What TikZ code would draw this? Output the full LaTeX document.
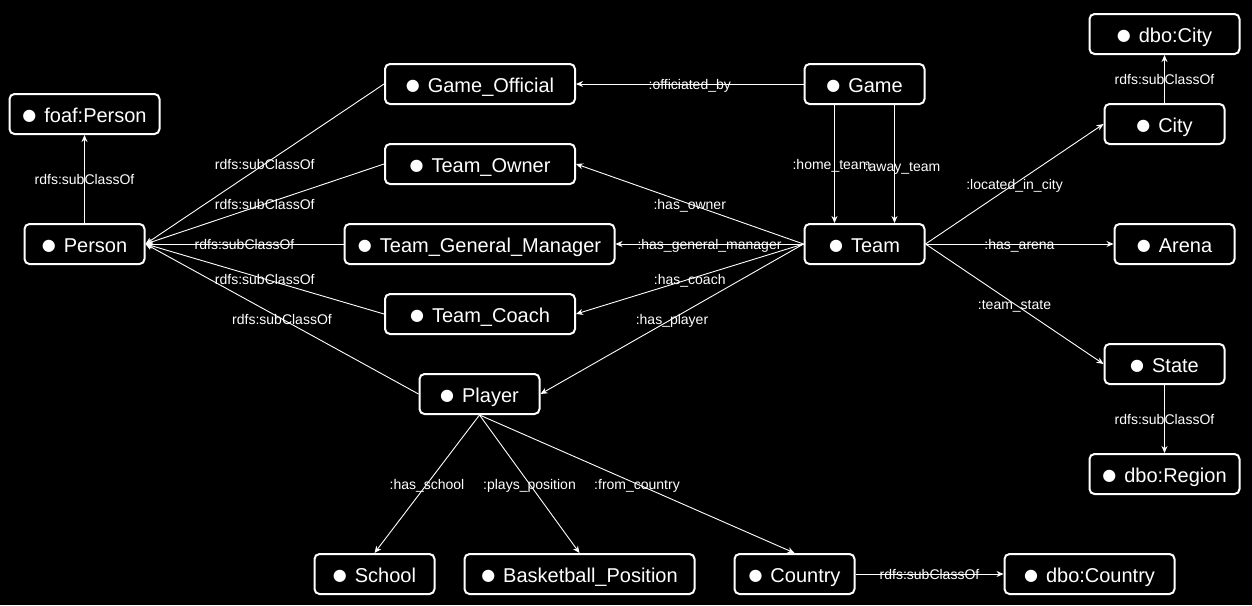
\documentclass[tikz,border=0pt]{standalone}
\usepackage{fontspec}
\setmainfont{Liberation Sans}
\newfontfamily\dotfont{DejaVu Sans}
\usetikzlibrary{arrows.meta}
\definecolor{canvasbg}{HTML}{000000}
\definecolor{inkwhite}{HTML}{FFFFFF}
\newcommand{\clsdot}{\raisebox{2pt}{\dotfont\fontsize{16}{16}\selectfont ●}\hspace{8pt}}

\begin{document}
\begin{tikzpicture}[
    x=1pt, y=-1pt,
    >={Stealth[length=7pt, width=6pt]},
    cls/.style={draw=inkwhite, fill=canvasbg, text=inkwhite, line width=2pt, rounded corners=5pt, minimum width=#1pt, minimum height=40pt, inner sep=0pt, text height=20pt, text depth=4pt, font=\fontsize{20}{24}\selectfont},
    cls/.default=120,
    rel/.style={->, draw=inkwhite, line width=0.9pt},
    rellab/.style={midway, font=\fontsize{14}{16}\selectfont, text=inkwhite, inner sep=0pt, text height=12pt, text depth=2pt},
]

% Canvas
\fill[canvasbg] (0,0) rectangle (1252,605);
\useasboundingbox (0,0) rectangle (1252,605);

% People
\node[cls=150] (foafperson) at (84.5,114) {\clsdot foaf:Person};
\node[cls] (person) at (84.5,244) {\clsdot Person};
\node[cls=190] (official) at (480,84) {\clsdot Game\_Official};
\node[cls=190] (owner) at (480,164) {\clsdot Team\_Owner};
\node[cls=270] (manager) at (479.5,244) {\clsdot Team\_General\_Manager};
\node[cls=190] (coach) at (480,314) {\clsdot Team\_Coach};
\node[cls] (player) at (479.5,394) {\clsdot Player};

% Game and Team
\node[cls] (game) at (864.5,84) {\clsdot Game};
\node[cls] (team) at (864.5,244) {\clsdot Team};

% Places
\node[cls=150] (dbocity) at (1164.5,34) {\clsdot dbo:City};
\node[cls] (city) at (1164.5,124) {\clsdot City};
\node[cls] (arena) at (1174.5,244) {\clsdot Arena};
\node[cls] (state) at (1164.5,364) {\clsdot State};
\node[cls=150] (dboregion) at (1164.5,474) {\clsdot dbo:Region};

% Player details
\node[cls] (school) at (374.5,574) {\clsdot School};
\node[cls=230] (position) at (579.5,574) {\clsdot Basketball\_Position};
\node[cls] (country) at (794.5,574) {\clsdot Country};
\node[cls=170] (dbocountry) at (1089.5,574) {\clsdot dbo:Country};

% Subclass links
\draw[rel] (person.north) -- (foafperson.south) node[rellab] {rdfs:subClassOf};
\draw[rel] (official.west) -- (person.east) node[rellab] {rdfs:subClassOf};
\draw[rel] (owner.west) -- (person.east) node[rellab] {rdfs:subClassOf};
\draw[rel] (manager.west) -- (person.east) node[rellab] {rdfs:subClassOf};
\draw[rel] (coach.west) -- (person.east) node[rellab] {rdfs:subClassOf};
\draw[rel] (player.west) -- (person.east) node[rellab] {rdfs:subClassOf};
\draw[rel] (city.north) -- (dbocity.south) node[rellab] {rdfs:subClassOf};
\draw[rel] (state.south) -- (dboregion.north) node[rellab] {rdfs:subClassOf};
\draw[rel] (country.east) -- (dbocountry.west) node[rellab] {rdfs:subClassOf};

% Game relations
\draw[rel] (game.west) -- (official.east) node[rellab] {:officiated\_by};
\draw[rel] ([xshift=-30pt]game.south) -- ([xshift=-30pt]team.north) node[rellab, xshift=-3pt] {:home\_team};
\draw[rel] ([xshift=30pt]game.south) -- ([xshift=30pt]team.north) node[rellab, xshift=8pt, yshift=-2pt] {:away\_team};

% Team relations
\draw[rel] (team.west) -- (owner.east) node[rellab] {:has\_owner};
\draw[rel] (team.west) -- (manager.east) node[rellab] {:has\_general\_manager};
\draw[rel] (team.west) -- (coach.east) node[rellab] {:has\_coach};
\draw[rel] (team.west) -- (player.east) node[rellab] {:has\_player};
\draw[rel] (team.east) -- (city.west) node[rellab] {:located\_in\_city};
\draw[rel] (team.east) -- (arena.west) node[rellab] {:has\_arena};
\draw[rel] (team.east) -- (state.west) node[rellab] {:team\_state};

% Player relations
\draw[rel] (player.south) -- (school.north) node[rellab] {:has\_school};
\draw[rel] (player.south) -- (position.north) node[rellab] {:plays\_position};
\draw[rel] (player.south) -- (country.north) node[rellab] {:from\_country};

\end{tikzpicture}
\end{document}
